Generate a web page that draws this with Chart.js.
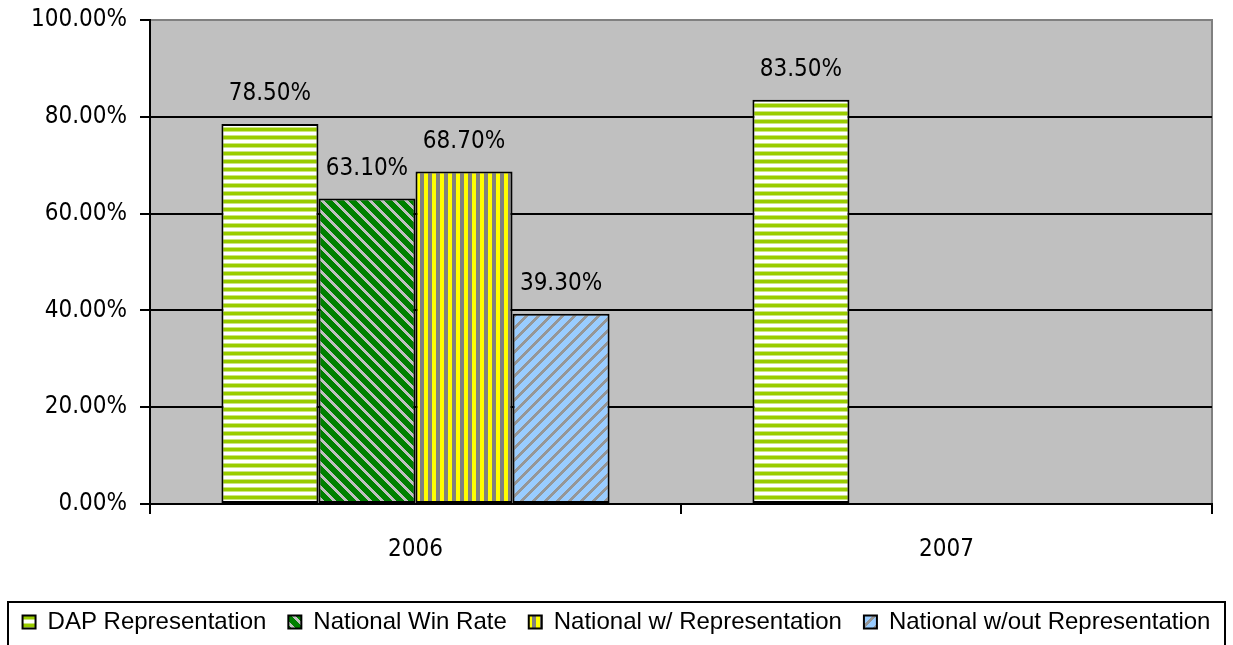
<!DOCTYPE html>
<html>
<head>
<meta charset="utf-8">
<script src="https://cdn.jsdelivr.net/npm/chart.js@4.4.1/dist/chart.umd.min.js"></script>
<style>
  html, body { margin: 0; padding: 0; background: #ffffff; }
  #wrap { width: 1233px; height: 645px; }
</style>
</head>
<body>
<div id="wrap"><canvas id="c" width="1233" height="645"></canvas></div>
<script>
const categories = ['2006', '2007'];
const seriesNames = ['DAP Representation', 'National Win Rate', 'National w/ Representation', 'National w/out Representation'];
const dapRepresentation = [78.5, 83.5];
const nationalWinRate = [63.1, null];
const nationalWithRep = [68.7, null];
const nationalWithoutRep = [39.3, null];
const yTicks = [0, 20, 40, 60, 80, 100];

function makePattern(size, fn) {
  const c = document.createElement('canvas');
  c.width = size; c.height = size;
  const g = c.getContext('2d');
  for (let y = 0; y < size; y++) {
    for (let x = 0; x < size; x++) {
      g.fillStyle = fn(x, y);
      g.fillRect(x, y, 1, 1);
    }
  }
  return g.createPattern(c, 'repeat');
}
const patDAP = makePattern(8, (x, y) => {
  const r = y % 8;
  if (r < 3) return '#99cc00';
  if (r === 3 || r === 7) return '#cce680';
  return '#ffffff';
});
const patWin = makePattern(12, (x, y) => (((x - y) % 12 + 12) % 12) < 4 ? '#c0c0c0' : '#008000');
const patWith = makePattern(8, (x, y) => (x % 8) < 4 ? '#ffff00' : '#808080');
const patWithout = makePattern(12, (x, y) => ((x + y) % 12) < 4 ? '#969696' : '#99ccff');

const narrow = '"DejaVu Sans Condensed", "Liberation Sans Narrow", sans-serif';

const plotBg = {
  id: 'plotBg',
  beforeDraw(chart) {
    const a = chart.chartArea, c = chart.ctx;
    c.save();
    c.fillStyle = '#c0c0c0';
    c.fillRect(a.left, a.top, a.right - a.left, a.bottom - a.top);
    c.strokeStyle = '#808080';
    c.lineWidth = 2;
    c.beginPath();
    c.moveTo(a.left, a.top); c.lineTo(a.right, a.top); c.lineTo(a.right, a.bottom);
    c.stroke();
    c.restore();
  },
  afterDraw(chart) {
    const c = chart.ctx;
    c.save();
    c.strokeStyle = '#000000';
    c.lineWidth = 2;
    c.strokeRect(8, 602, 1217, 70);
    c.restore();
  }
};

const valueLabels = {
  id: 'valueLabels',
  afterDatasetsDraw(chart) {
    const c = chart.ctx;
    c.save();
    c.font = '24px ' + narrow;
    c.fillStyle = '#000000';
    c.textAlign = 'center';
    c.textBaseline = 'middle';
    chart.data.datasets.forEach((ds, i) => {
      const meta = chart.getDatasetMeta(i);
      meta.data.forEach((el, j) => {
        const v = ds.data[j];
        if (v === null || v === undefined) return;
        c.fillText(v.toFixed(2) + '%', el.x, el.y - 30);
      });
    });
    c.restore();
  }
};

const datasets = [
  { label: seriesNames[0], data: dapRepresentation, backgroundColor: patDAP },
  { label: seriesNames[1], data: nationalWinRate, backgroundColor: patWin },
  { label: seriesNames[2], data: nationalWithRep, backgroundColor: patWith },
  { label: seriesNames[3], data: nationalWithoutRep, backgroundColor: patWithout }
].map(d => Object.assign(d, {
  borderColor: '#000000', borderWidth: 2, borderSkipped: false,
  categoryPercentage: 0.731, barPercentage: 1.0
}));

new Chart(document.getElementById('c'), {
  type: 'bar',
  data: { labels: categories, datasets },
  options: {
    responsive: false,
    animation: false,
    devicePixelRatio: 1,
    layout: { padding: { top: 20, right: 0, bottom: 1, left: 0 } },
    plugins: {
      tooltip: { enabled: false },
      legend: {
        position: 'bottom',
        labels: {
          font: { family: '"Liberation Sans", Arial, sans-serif', size: 24 },
          color: '#000000',
          boxWidth: 13,
          boxHeight: 13,
          padding: 22
        }
      }
    },
    scales: {
      x: {
        type: 'category',
        offset: true,
        grid: { offset: true, drawOnChartArea: false, drawTicks: true, tickLength: 10, color: '#000000', lineWidth: 2 },
        border: { color: '#000000', width: 2 },
        ticks: { font: { family: narrow, size: 24 }, color: '#000000', padding: 21 },
        afterFit(scale) { scale.height = 84; scale.paddingLeft = 0; scale.paddingRight = 0; }
      },
      y: {
        min: 0, max: 100,
        afterBuildTicks(scale) { scale.ticks = yTicks.map(v => ({ value: v })); },
        ticks: {
          font: { family: narrow, size: 24 }, color: '#000000', padding: 13,
          callback: v => v.toFixed(2) + '%'
        },
        grid: {
          color: c => (c.tick && c.tick.value === 100) ? '#808080' : '#000000',
          lineWidth: 2, tickLength: 10, tickColor: '#000000', tickWidth: 2
        },
        border: { color: '#000000', width: 2 },
        afterFit(scale) { scale.width = 150; scale.paddingTop = 0; scale.paddingBottom = 0; }
      },
      yRight: {
        position: 'right',
        min: 0, max: 100,
        grid: { display: false, drawOnChartArea: false },
        border: { display: false },
        ticks: { display: false },
        afterFit(scale) { scale.width = 21; scale.paddingTop = 0; scale.paddingBottom = 0; }
      }
    }
  },
  plugins: [plotBg, valueLabels]
});
</script>
</body>
</html>
